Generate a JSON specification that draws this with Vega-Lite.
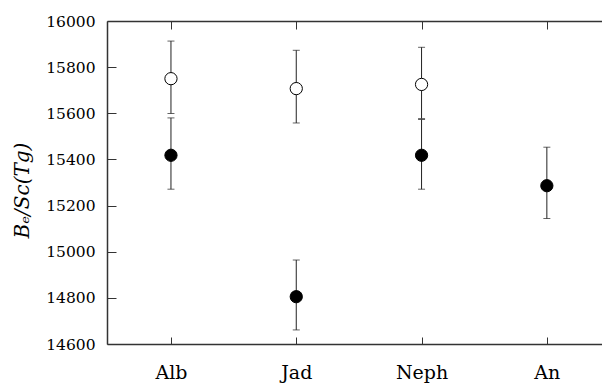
{
  "$schema": "https://vega.github.io/schema/vega-lite/v6.json",
  "autosize": "none",
  "padding": {"left": 107, "top": 21, "right": 0, "bottom": 44},
  "width": 495,
  "height": 323,
  "background": "white",
  "config": {
    "view": {"stroke": null},
    "font": "DejaVu Serif",
    "axis": {"grid": false, "domainColor": "#333333", "tickColor": "#333333", "labelColor": "black", "titleColor": "black", "labelFont": "DejaVu Serif", "titleFont": "DejaVu Serif"}
  },
  "data": {
    "values": [
      {"cat": "Alb", "type": "open", "value": 15750, "lo": 15599, "hi": 15913},
      {"cat": "Alb", "type": "filled", "value": 15418, "lo": 15271, "hi": 15580},
      {"cat": "Jad", "type": "open", "value": 15707, "lo": 15558, "hi": 15873},
      {"cat": "Jad", "type": "filled", "value": 14805, "lo": 14661, "hi": 14964},
      {"cat": "Neph", "type": "open", "value": 15725, "lo": 15577, "hi": 15886},
      {"cat": "Neph", "type": "filled", "value": 15418, "lo": 15271, "hi": 15573},
      {"cat": "An", "type": "filled", "value": 15286, "lo": 15144, "hi": 15453}
    ]
  },
  "resolve": {"axis": {"x": "independent"}},
  "layer": [
    {
      "mark": {"type": "errorbar", "ticks": {"size": 7, "color": "#222222"}, "rule": {"color": "#222222", "strokeWidth": 1}},
      "encoding": {
        "x": {"field": "cat", "type": "ordinal", "sort": ["Alb", "Jad", "Neph", "An"],
          "scale": {"type": "point", "padding": 0.4753, "align": 0.537},
          "axis": {"orient": "bottom", "title": null, "labelAngle": 0, "labelFont": "DejaVu Serif", "labelFontSize": 19, "labelPadding": 26, "tickSize": -7, "domainWidth": 1.5}},
        "y": {"field": "lo", "type": "quantitative",
          "scale": {"domain": [14600, 16000], "nice": false, "zero": false},
          "axis": {
            "values": [14600,14650,14700,14750,14800,14850,14900,14950,15000,15050,15100,15150,15200,15250,15300,15350,15400,15450,15500,15550,15600,15650,15700,15750,15800,15850,15900,15950,16000],
            "labelExpr": "datum.value % 200 === 0 ? datum.label : ''",
            "format": "d",
            "labelFont": "DejaVu Serif",
            "labelFontSize": 15.5,
            "labelPadding": 21,
            "tickSize": {"condition": {"test": "datum.value % 200 === 0", "value": -9}, "value": -5},
            "domainWidth": 1.5,
            "title": "Bₑ/Sc(Tg)",
            "titleFont": "DejaVu Serif",
            "titleFontSize": 20,
            "titleFontStyle": "italic",
            "titleFontWeight": "normal",
            "titleX": -75,
            "titleY": 169,
            "titleAlign": "center",
            "titleBaseline": "bottom"
          }},
        "y2": {"field": "hi"}
      }
    },
    {
      "mark": {"type": "point", "shape": "circle", "size": 150, "filled": true, "stroke": "black", "strokeWidth": 1, "opacity": 1},
      "encoding": {
        "x": {"field": "cat", "type": "ordinal", "sort": ["Alb", "Jad", "Neph", "An"],
          "axis": {"orient": "top", "title": null, "labels": false, "tickSize": -8, "domainWidth": 1.5}},
        "y": {"field": "value", "type": "quantitative"},
        "fill": {"field": "type", "type": "nominal", "scale": {"domain": ["open", "filled"], "range": ["white", "black"]}, "legend": null}
      }
    }
  ]
}
